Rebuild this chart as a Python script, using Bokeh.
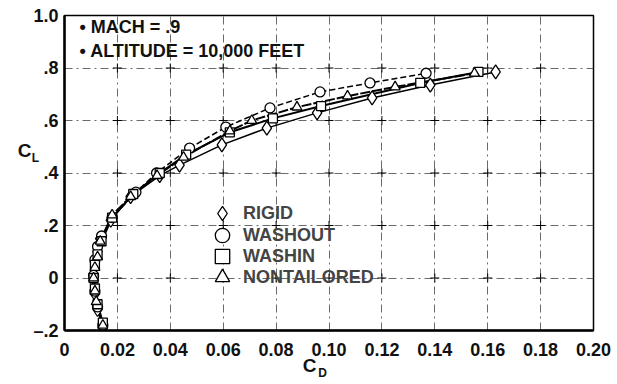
from bokeh.plotting import figure
from bokeh.models import Label, Legend, LegendItem, FixedTicker
from bokeh.embed import file_html
from bokeh.resources import INLINE

FONT = "Liberation Sans"

# ---- data ----
rigid_cd = [0.0145, 0.0125, 0.0115, 0.011, 0.0115, 0.0125, 0.0135, 0.0175, 0.025, 0.036, 0.0435, 0.0595, 0.0765, 0.0955, 0.1163, 0.1383, 0.163]
rigid_cl = [-0.19, -0.12, -0.06, 0.0, 0.06, 0.10, 0.15, 0.22, 0.31, 0.39, 0.43, 0.507, 0.571, 0.629, 0.686, 0.735, 0.785]

washout_cd = [0.0145, 0.0125, 0.0115, 0.011, 0.0115, 0.0125, 0.014, 0.018, 0.027, 0.0348, 0.0473, 0.061, 0.0777, 0.0966, 0.1155, 0.1367]
washout_cl = [-0.18, -0.11, -0.05, 0.01, 0.07, 0.12, 0.16, 0.23, 0.327, 0.40, 0.495, 0.575, 0.648, 0.709, 0.743, 0.78]

washin_cd = [0.0145, 0.0125, 0.0115, 0.011, 0.0115, 0.0125, 0.014, 0.018, 0.026, 0.036, 0.046, 0.0625, 0.0788, 0.097, 0.1345, 0.1565]
washin_cl = [-0.17, -0.10, -0.04, 0.0, 0.05, 0.09, 0.14, 0.23, 0.32, 0.40, 0.47, 0.555, 0.608, 0.655, 0.743, 0.785]

nont_cd = [0.0145, 0.012, 0.0115, 0.011, 0.0115, 0.0125, 0.0135, 0.018, 0.025, 0.035, 0.045, 0.0625, 0.0708, 0.0879, 0.107, 0.125, 0.155]
nont_cl = [-0.18, -0.09, -0.05, 0.0, 0.04, 0.08, 0.14, 0.24, 0.31, 0.39, 0.46, 0.56, 0.60, 0.651, 0.693, 0.728, 0.78]

x_ticks = [0, 0.02, 0.04, 0.06, 0.08, 0.10, 0.12, 0.14, 0.16, 0.18, 0.20]
x_labels = ["0", "0.02", "0.04", "0.06", "0.08", "0.10", "0.12", "0.14", "0.16", "0.18", "0.20"]
y_ticks = [-0.2, 0, 0.2, 0.4, 0.6, 0.8, 1.0]
y_labels = ["\u2013.2", "0", ".2", ".4", ".6", ".8", "1.0"]

series_names = ["RIGID", "WASHOUT", "WASHIN", "NONTAILORED"]
notes = ["\u2022 MACH = .9", "\u2022 ALTITUDE = 10,000 FEET"]

p = figure(width=617, height=384, x_range=(0, 0.20), y_range=(-0.2, 1.0),
           output_backend="svg", toolbar_location=None,
           min_border_left=64, min_border_right=24, min_border_top=15, min_border_bottom=54)
p.background_fill_color = "white"
p.border_fill_color = "white"
p.outline_line_color = "black"
p.outline_line_width = 1.5

p.xaxis.ticker = FixedTicker(ticks=x_ticks)
p.yaxis.ticker = FixedTicker(ticks=y_ticks)
p.xaxis.major_label_overrides = {t: l for t, l in zip(x_ticks, x_labels)}
p.yaxis.major_label_overrides = {t: l for t, l in zip(y_ticks, y_labels)}
for ax in (p.xaxis, p.yaxis):
    ax.axis_line_width = 2.5
    ax.axis_line_color = "black"
    ax.major_tick_in = 0
    ax.major_tick_out = 0
    ax.minor_tick_line_color = None
    ax.major_label_text_font = FONT
    ax.major_label_text_font_style = "bold"
    ax.major_label_text_font_size = "18px"
    ax.major_label_text_color = "#111111"
p.xaxis.major_label_standoff = 12
p.yaxis.major_label_standoff = 6

for g in (p.xgrid, p.ygrid):
    g.grid_line_color = "#444444"
    g.grid_line_width = 0.8
    g.grid_line_dash = "8 4 2 4"

# grid crosses at intersections
gx = [x for x in x_ticks[1:-1] for y in y_ticks[1:-1]]
gy = [y for x in x_ticks[1:-1] for y in y_ticks[1:-1]]
p.scatter(gx, gy, marker="cross", size=9, line_color="black", line_width=1)

# lines
p.line(rigid_cd, rigid_cl, line_color="black", line_width=1.5)
p.line(washout_cd, washout_cl, line_color="black", line_width=1.5, line_dash="6 3")
p.line(washin_cd, washin_cl, line_color="black", line_width=2)
p.line(nont_cd, nont_cl, line_color="black", line_width=2, line_dash="10 2")

# markers
r_rigid = p.scatter(rigid_cd, rigid_cl, marker="diamond", size=14, fill_color="white", line_color="black", line_width=1.3)
r_wo = p.scatter(washout_cd, washout_cl, marker="circle", size=10, fill_color="white", line_color="black", line_width=1.3)
r_wi = p.scatter(washin_cd, washin_cl, marker="square", size=9, fill_color="white", line_color="black", line_width=1.3)
r_nt = p.scatter(nont_cd, nont_cl, marker="triangle", size=10, fill_color="white", line_color="black", line_width=1.3)

# one legend per entry so rows can be tighter than the glyph box
row_bottoms = [99, 77, 56, 35]
for name, r, yb in zip(series_names, [r_rigid, r_wo, r_wi, r_nt], row_bottoms):
    lg = Legend(items=[LegendItem(label=name, renderers=[r])], location=(140, yb))
    lg.background_fill_alpha = 0
    lg.border_line_color = None
    lg.label_text_font = FONT
    lg.label_text_font_style = "bold"
    lg.label_text_font_size = "18px"
    lg.glyph_width = 36
    lg.glyph_height = 36
    lg.padding = 0
    lg.margin = 0
    lg.label_standoff = 3
    p.add_layout(lg)

for i, t in enumerate(notes):
    p.add_layout(Label(x=15, y=304 - i * 24, x_units="screen", y_units="screen", text=t,
                       text_baseline="middle",
                       text_font=FONT, text_font_style="bold", text_font_size="18px",
                       text_color="#111111"))

# axis titles: each piece in its own side panel (side panels are not clipped)
lab = dict(x_units="screen", y_units="screen", text_font=FONT, text_font_style="bold",
           text_baseline="middle", text_align="center", text_color="#111111")
p.add_layout(Label(x=8, y=180, text="C", text_font_size="19px", **lab), "left")
p.add_layout(Label(x=-558, y=173, text="L", text_font_size="12px", **lab), "right")
p.add_layout(Label(x=245, y=14, text="C", text_font_size="19px", **lab), "below")
p.add_layout(Label(x=258, y=-357, text="D", text_font_size="12px", **lab), "above")

open("out.html", "w").write(file_html(p, INLINE))
